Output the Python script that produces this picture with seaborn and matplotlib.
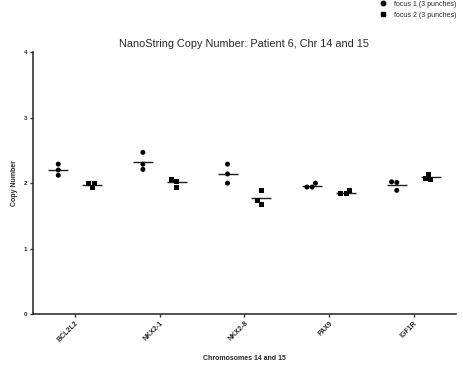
import matplotlib
matplotlib.use("Agg")
import matplotlib.pyplot as plt
import seaborn as sns
import pandas as pd
from matplotlib.lines import Line2D

genes = ["BCL2L2", "NKX2-1", "NKX2-8", "PAX9", "IGF1R"]
focus1 = [[2.29, 2.20, 2.12],
          [2.47, 2.29, 2.21],
          [2.29, 2.14, 2.00],
          [2.00, 1.94, 1.94],
          [2.02, 2.01, 1.89]]
focus2 = [[2.00, 1.99, 1.93],
          [2.06, 2.03, 1.94],
          [1.89, 1.73, 1.68],
          [1.89, 1.84, 1.84],
          [2.13, 2.06, 2.07]]
groups = ["focus 1 (3 punches)", "focus 2 (3 punches)"]

rows = []
for g, a, b in zip(genes, focus1, focus2):
    rows += [(g, groups[0], v) for v in a]
    rows += [(g, groups[1], v) for v in b]
df = pd.DataFrame(rows, columns=["gene", "focus", "copy"])

sns.set_style("ticks")
plt.rcParams["font.family"] = ["Liberation Sans", "DejaVu Sans"]

fig = plt.figure(figsize=(4.63, 3.67), dpi=100)
ax = fig.add_axes([0.071, 0.144, 0.914, 0.714])

# one swarm per focus so each gets its own marker, dodged side by side
palette = {groups[0]: "black", groups[1]: "black"}
for grp, mk in zip(groups, ["o", "s"]):
    sub = df.copy()
    sub.loc[sub["focus"] != grp, "copy"] = float("nan")
    sns.swarmplot(data=sub, x="gene", y="copy", hue="focus", hue_order=groups,
                  dodge=True, palette=palette, marker=mk, size=3.6,
                  linewidth=0, ax=ax, legend=False, order=genes)

# mean lines
sns.pointplot(data=df, x="gene", y="copy", hue="focus", hue_order=groups,
              order=genes, dodge=0.4, errorbar=None, linestyle="none",
              markers="_", markersize=15, markeredgewidth=1.0,
              palette={groups[0]: "#222222", groups[1]: "#222222"},
              ax=ax, legend=False)

ax.set_xlim(-0.5, 4.5)
ax.set_ylim(0, 4)
ax.set_yticks([0, 1, 2, 3, 4])
ax.set_yticklabels(["0", "1", "2", "3", "4"], fontsize=4.5, fontweight="bold")
ax.set_xticks(range(len(genes)))
ax.set_xticklabels(genes, rotation=45, ha="right", rotation_mode="anchor",
                   fontsize=5, fontweight="bold")
ax.tick_params(axis="both", length=2.5, width=1, color="#333333", pad=1.5)
sns.despine(ax=ax)
for s in ["left", "bottom"]:
    ax.spines[s].set_linewidth(1.2)
    ax.spines[s].set_color("#333333")

ax.set_ylabel("Copy Number", fontsize=5, fontweight="bold", labelpad=4)
ax.set_xlabel("Chromosomes 14 and 15", fontsize=5, fontweight="bold", labelpad=8)
ax.set_title("NanoString Copy Number: Patient 6, Chr 14 and 15", fontsize=7.8, pad=4)

handles = [Line2D([], [], marker="o", color="black", linestyle="none", markersize=3.2),
           Line2D([], [], marker="s", color="black", linestyle="none", markersize=3.2)]
fig.legend(handles, groups, loc="upper right", bbox_to_anchor=(0.988, 1.0),
           frameon=False, fontsize=5, handletextpad=0.6, labelspacing=0.6,
           borderaxespad=0.0, borderpad=0.1)

fig.savefig("out.png", dpi=100)
